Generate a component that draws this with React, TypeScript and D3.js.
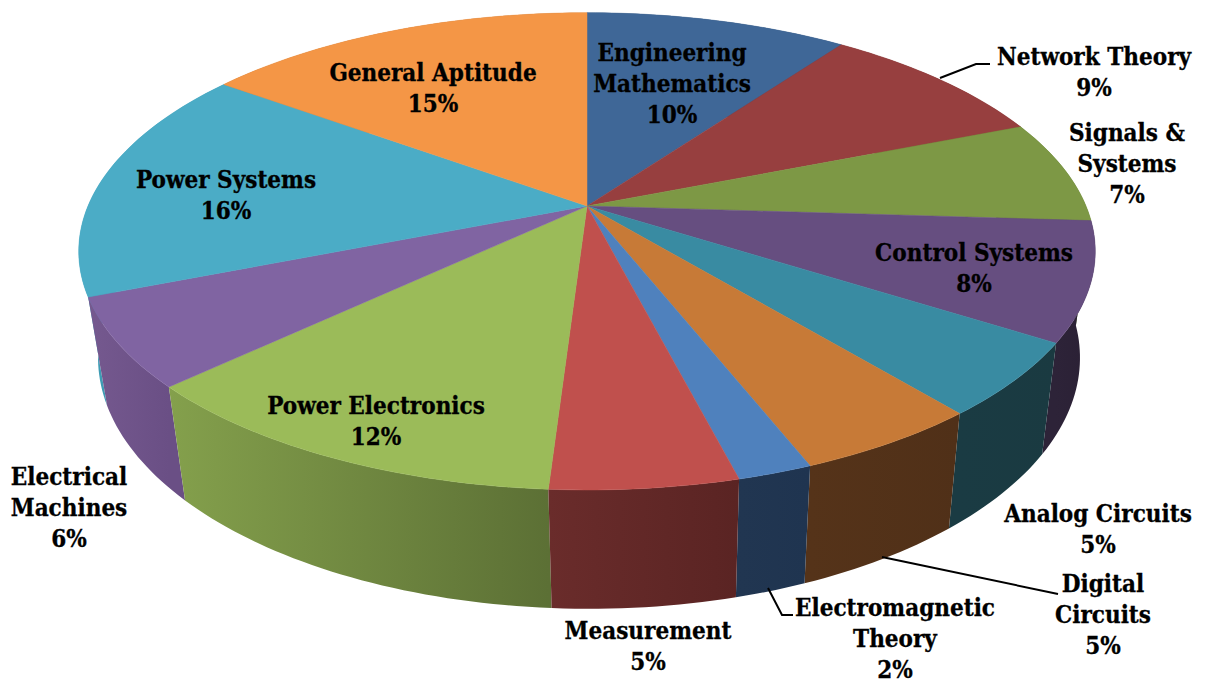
import * as d3 from 'd3';

const categories = [
  'Engineering Mathematics', 'Network Theory', 'Signals & Systems', 'Control Systems',
  'Analog Circuits', 'Digital Circuits', 'Electromagnetic Theory', 'Measurement',
  'Power Electronics', 'Electrical Machines', 'Power Systems', 'General Aptitude',
];
const shares = [10, 9, 7, 8, 5, 5, 2, 5, 12, 6, 16, 15];

const topColors = [
  '#3f6797', '#973f3f', '#7d9845', '#664e80', '#398ba2', '#c77a37',
  '#4f81bd', '#c0504d', '#9bbb59', '#8064a2', '#4bacc6', '#f49646',
];
const wallStart = [
  '#2c4a6e', '#6b2b2b', '#59702f', '#2d2338', '#1a3b43', '#553319',
  '#213651', '#6a2c2b', '#84a04c', '#75598f', '#3f9db6', '#b06a2e',
];
const wallEnd = [
  '#2c4a6e', '#6b2b2b', '#59702f', '#2a2034', '#1a3a41', '#503018',
  '#1f3450', '#5a2423', '#5c7035', '#6a4f85', '#3790a8', '#b06a2e',
];

// label lines and where they sit, same order as categories
const labelLines = [
  ['Engineering', 'Mathematics', '10%'], ['Network Theory', '9%'], ['Signals &', 'Systems', '7%'],
  ['Control Systems', '8%'], ['Analog Circuits', '5%'], ['Digital', 'Circuits', '5%'],
  ['Electromagnetic', 'Theory', '2%'], ['Measurement', '5%'], ['Power Electronics', '12%'],
  ['Electrical', 'Machines', '6%'], ['Power Systems', '16%'], ['General Aptitude', '15%'],
];
const labelX = [672, 1094, 1127, 974, 1098, 1103, 895, 648, 376, 69, 226, 433];
const labelY = [61, 65, 141, 261, 522, 592, 616, 639, 414, 485, 188, 81];

const leaders = [
  [[940, 78], [976, 64], [990, 64]],
  [[882, 557], [1058, 594]],
  [[768, 588], [782, 615], [793, 615]],
];

const width = 1211;
const height = 684;
const radius = 499;

// perspective disc: the back half of the rim is squeezed, the front half stretched
const topRim = { cx: 587, scale: 1, cy: 206, a: 230, k: 0.19 };
const bottomRim = { cx: 589, scale: 0.966, cy: 310, a: 242, k: 0.19 };

type Rim = typeof topRim;

const project = (rim: Rim, angle: number): [number, number] => {
  const u = Math.sin(angle);
  const v = -Math.cos(angle);
  const w = 1 - rim.k * v;
  return [rim.cx + (radius * rim.scale * u) / w, rim.cy + (rim.a * v) / w];
};

const rimPoints = (rim: Rim, a0: number, a1: number) => {
  const steps = Math.max(2, Math.ceil((a1 - a0) / 0.02));
  return d3.range(steps + 1).map(i => project(rim, a0 + ((a1 - a0) * i) / steps));
};

const slices = d3.pie<number>().sort(null).value(d => d)(shares);
const polygon = d3.line().curve(d3.curveLinear);

export default function App() {
  const wallOrder = [...slices.keys()].sort(
    (a, b) =>
      -Math.cos((slices[a].startAngle + slices[a].endAngle) / 2) +
      Math.cos((slices[b].startAngle + slices[b].endAngle) / 2),
  );

  return (
    <svg
      width={width}
      height={height}
      viewBox={`0 0 ${width} ${height}`}
      style={{ position: 'absolute', left: 0, top: 0, background: '#fff' }}
    >
      <defs>
        {slices.map((s, i) => {
          const top = rimPoints(topRim, s.startAngle, s.endAngle);
          const xs = d3.extent(top, p => p[0]) as [number, number];
          return (
            <linearGradient key={i} id={`wall-${i}`} gradientUnits="userSpaceOnUse" x1={xs[0]} x2={xs[1]} y1={0} y2={0}>
              <stop offset="0%" stopColor={wallStart[i]} />
              <stop offset="100%" stopColor={wallEnd[i]} />
            </linearGradient>
          );
        })}
      </defs>

      {/* outer walls, back to front */}
      {wallOrder.map(i => {
        const s = slices[i];
        const pts = [
          ...rimPoints(topRim, s.startAngle, s.endAngle),
          ...rimPoints(bottomRim, s.startAngle, s.endAngle).reverse(),
        ];
        return <path key={categories[i]} d={`${polygon(pts)}Z`} fill={`url(#wall-${i})`} />;
      })}

      {/* top faces */}
      {slices.map((s, i) => {
        const pts: [number, number][] = [[topRim.cx, topRim.cy], ...rimPoints(topRim, s.startAngle, s.endAngle)];
        return (
          <path key={categories[i]} d={`${polygon(pts)}Z`} fill={topColors[i]} stroke={topColors[i]} strokeWidth={0.5} />
        );
      })}

      {leaders.map((pts, i) => (
        <path key={i} d={polygon(pts as [number, number][]) ?? ''} fill="none" stroke="#000" strokeWidth={2} />
      ))}

      {labelLines.map((lines, i) => (
        <text
          key={categories[i]}
          x={labelX[i]}
          y={labelY[i]}
          textAnchor="middle"
          fontFamily="'DejaVu Serif Condensed', 'DejaVu Serif', serif"
          fontWeight={700}
          fontSize={24}
          stroke="#000"
          strokeWidth={0.3}
          fill="#000"
        >
          {lines.map((line, j) => (
            <tspan key={j} x={labelX[i]} dy={j === 0 ? 0 : 31}>
              {line}
            </tspan>
          ))}
        </text>
      ))}
    </svg>
  );
}
